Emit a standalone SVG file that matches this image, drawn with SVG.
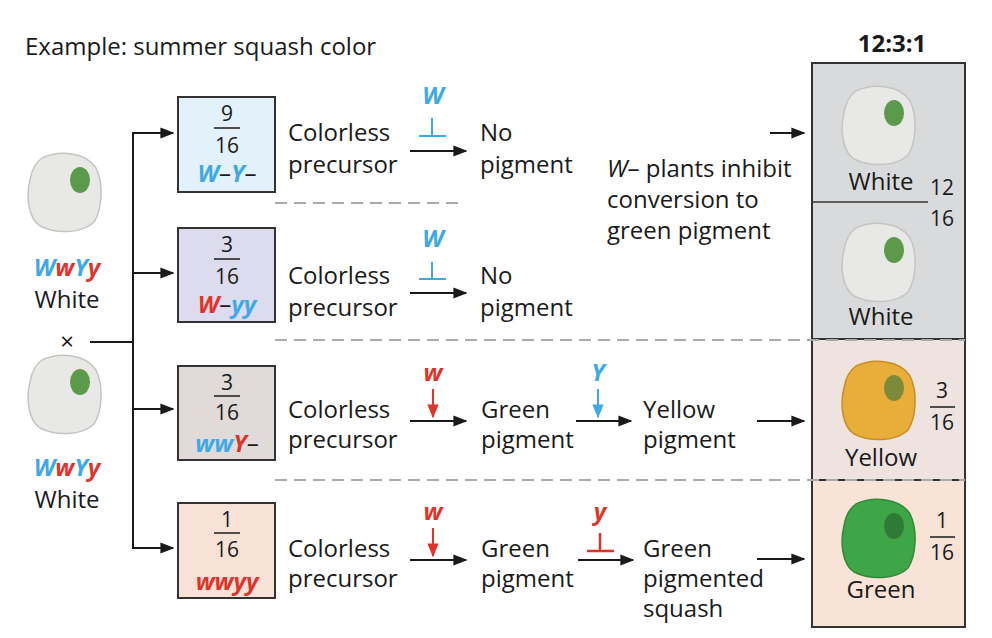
<svg xmlns="http://www.w3.org/2000/svg" width="992" height="638" viewBox="0 0 992 638">
<defs>
<style>
text{font-family:"Open Sans","Noto Sans","Liberation Sans",sans-serif;font-size:24px;fill:#1a1a1a}
.c{text-anchor:middle}
.b{fill:#3da9e8;font-weight:bold;font-style:italic}
.r{fill:#e2332b;font-weight:bold;font-style:italic}
.f{font-size:21px}
.ln{stroke:#1a1a1a;stroke-width:2;fill:none}
.dash{stroke:#aaa;stroke-width:2;stroke-dasharray:12 7}
.box{stroke:#333;stroke-width:2}
</style>
<marker id="a" viewBox="0 0 10 10" refX="9" refY="5" markerWidth="7" markerHeight="7" orient="auto"><path d="M0,1 L10,5 L0,9 z" fill="#1a1a1a"/></marker>
<marker id="ab" viewBox="0 0 10 10" refX="9" refY="5" markerWidth="7" markerHeight="7" orient="auto"><path d="M0,1 L10,5 L0,9 z" fill="#3da9e8"/></marker>
<marker id="ar" viewBox="0 0 10 10" refX="9" refY="5" markerWidth="7" markerHeight="7" orient="auto"><path d="M0,1 L10,5 L0,9 z" fill="#e2332b"/></marker>
<path id="shape" d="M-22,-34 C-5,-42 22,-40 32,-24 C40,-8 38,18 30,30 C18,42 -8,42 -24,34 C-36,26 -38,4 -34,-12 C-32,-24 -28,-30 -22,-34z"/>
<g id="sqW"><use href="#shape" fill="#e8e8e6" stroke="#c4c4c0" stroke-width="1.5"/><ellipse cx="16" cy="-12" rx="10" ry="13" fill="#5a9a4a"/></g>
<g id="sqY"><use href="#shape" fill="#e9ad3a" stroke="#c98d20" stroke-width="1.5"/><ellipse cx="16" cy="-12" rx="10" ry="13" fill="#7d8a3a"/></g>
<g id="sqG"><use href="#shape" fill="#3fa648" stroke="#2d8a36" stroke-width="1.5"/><ellipse cx="16" cy="-12" rx="10" ry="13" fill="#2f7a34"/></g>
</defs>
<rect width="992" height="638" fill="#fff"/>
<text x="25" y="55">Example: summer squash color</text>
<text x="892" y="52" class="c" style="font-weight:bold">12:3:1</text>

<g id="panel">
<rect x="812" y="63" width="153" height="276" fill="#d9dadc" stroke="#333" stroke-width="2"/>
<rect x="812" y="339" width="153" height="141" fill="#eee3df" stroke="#333" stroke-width="2"/>
<rect x="812" y="480" width="153" height="147" fill="#f9e2d6" stroke="#333" stroke-width="2"/>
<line x1="812" y1="202" x2="928" y2="202" stroke="#333" stroke-width="1.5"/>
<use href="#sqW" x="878" y="125"/>
<use href="#sqW" x="878" y="262"/>
<use href="#sqY" x="878" y="400"/>
<use href="#sqG" x="878" y="538"/>
<text x="881" y="190" class="c">White</text>
<text x="881" y="325" class="c">White</text>
<text x="881" y="466" class="c">Yellow</text>
<text x="881" y="598" class="c">Green</text>
<text x="942" y="195" class="c f">12</text><text x="942" y="226" class="c f">16</text>
<text x="942" y="398" class="c f">3</text><text x="942" y="430" class="c f">16</text>
<line x1="930" y1="407" x2="955" y2="407" stroke="#1a1a1a" stroke-width="1.5"/>
<text x="942" y="528" class="c f">1</text><text x="942" y="560" class="c f">16</text>
<line x1="930" y1="537" x2="955" y2="537" stroke="#1a1a1a" stroke-width="1.5"/>
</g>

<g id="dashes">
<line x1="275" y1="203" x2="465" y2="203" class="dash"/>
<line x1="275" y1="340" x2="965" y2="340" class="dash"/>
<line x1="275" y1="480" x2="965" y2="480" class="dash"/>
</g>

<g id="parents">
<use href="#sqW" x="64" y="192"/>
<text x="67" y="276" class="c"><tspan class="b">W</tspan><tspan class="r">w</tspan><tspan class="b">Y</tspan><tspan class="r">y</tspan></text>
<text x="67" y="308" class="c">White</text>
<text x="67" y="350" class="c">×</text>
<use href="#sqW" x="64" y="394"/>
<text x="67" y="476" class="c"><tspan class="b">W</tspan><tspan class="r">w</tspan><tspan class="b">Y</tspan><tspan class="r">y</tspan></text>
<text x="67" y="508" class="c">White</text>
</g>

<g id="connectors">
<line x1="90" y1="342" x2="133" y2="342" class="ln"/>
<line x1="133" y1="132" x2="133" y2="549" class="ln"/>
<line x1="133" y1="133" x2="173" y2="133" class="ln" marker-end="url(#a)"/>
<line x1="133" y1="273" x2="173" y2="273" class="ln" marker-end="url(#a)"/>
<line x1="133" y1="409" x2="173" y2="409" class="ln" marker-end="url(#a)"/>
<line x1="133" y1="548" x2="173" y2="548" class="ln" marker-end="url(#a)"/>
<line x1="410" y1="151" x2="466" y2="151" class="ln" marker-end="url(#a)"/>
<line x1="410" y1="293" x2="466" y2="293" class="ln" marker-end="url(#a)"/>
<line x1="410" y1="421" x2="466" y2="421" class="ln" marker-end="url(#a)"/>
<line x1="576" y1="421" x2="631" y2="421" class="ln" marker-end="url(#a)"/>
<line x1="757" y1="421" x2="804" y2="421" class="ln" marker-end="url(#a)"/>
<line x1="410" y1="560" x2="466" y2="560" class="ln" marker-end="url(#a)"/>
<line x1="578" y1="560" x2="633" y2="560" class="ln" marker-end="url(#a)"/>
<line x1="757" y1="559" x2="804" y2="559" class="ln" marker-end="url(#a)"/>
<line x1="770" y1="133" x2="804" y2="133" class="ln" marker-end="url(#a)"/>
</g>

<g id="row1">
<rect x="178" y="97" width="97" height="95" fill="#e2f1fa" class="box"/>
<text x="227" y="121" class="c f">9</text><line x1="214" y1="128" x2="240" y2="128" stroke="#1a1a1a" stroke-width="1.5"/><text x="227" y="153" class="c f">16</text>
<text x="227" y="182" class="c"><tspan class="b">W</tspan>–<tspan class="b">Y</tspan>–</text>
<text x="288" y="141">Colorless</text><text x="288" y="173">precursor</text>
<text x="433" y="104" class="c b">W</text>
<path d="M432,118 V136 M419,136 H446" stroke="#3da9e8" stroke-width="2"/>
<text x="480" y="141">No</text><text x="480" y="173">pigment</text>
<text x="607" y="177"><tspan font-style="italic">W</tspan>– plants inhibit</text>
<text x="607" y="208">conversion to</text>
<text x="607" y="239">green pigment</text>
</g>
<g id="row2">
<rect x="178" y="228" width="97" height="94" fill="#dcdcee" class="box"/>
<text x="227" y="252" class="c f">3</text><line x1="214" y1="259" x2="240" y2="259" stroke="#1a1a1a" stroke-width="1.5"/><text x="227" y="284" class="c f">16</text>
<text x="227" y="313" class="c"><tspan class="r">W</tspan>–<tspan class="b">yy</tspan></text>
<text x="288" y="284">Colorless</text><text x="288" y="316">precursor</text>
<text x="433" y="247" class="c b">W</text>
<path d="M432,262 V279 M419,279 H446" stroke="#3da9e8" stroke-width="2"/>
<text x="480" y="284">No</text><text x="480" y="316">pigment</text>
</g>
<g id="row3">
<rect x="178" y="366" width="97" height="94" fill="#e0dbd8" class="box"/>
<text x="227" y="390" class="c f">3</text><line x1="214" y1="396" x2="240" y2="396" stroke="#1a1a1a" stroke-width="1.5"/><text x="227" y="420" class="c f">16</text>
<text x="227" y="452" class="c"><tspan class="b">ww</tspan><tspan class="r">Y</tspan>–</text>
<text x="288" y="418">Colorless</text><text x="288" y="448">precursor</text>
<text x="433" y="381" class="c r">w</text>
<line x1="433" y1="389" x2="433" y2="417" stroke="#e2332b" stroke-width="2" marker-end="url(#ar)"/>
<text x="481" y="418">Green</text><text x="481" y="448">pigment</text>
<text x="598" y="381" class="c b">Y</text>
<line x1="598" y1="389" x2="598" y2="417" stroke="#3da9e8" stroke-width="2" marker-end="url(#ab)"/>
<text x="643" y="418">Yellow</text><text x="643" y="448">pigment</text>
</g>
<g id="row4">
<rect x="178" y="503" width="97" height="95" fill="#f8e2d8" class="box"/>
<text x="227" y="527" class="c f">1</text><line x1="214" y1="533" x2="240" y2="533" stroke="#1a1a1a" stroke-width="1.5"/><text x="227" y="557" class="c f">16</text>
<text x="227" y="590" class="c r">wwyy</text>
<text x="288" y="557">Colorless</text><text x="288" y="587">precursor</text>
<text x="433" y="520" class="c r">w</text>
<line x1="433" y1="528" x2="433" y2="556" stroke="#e2332b" stroke-width="2" marker-end="url(#ar)"/>
<text x="481" y="557">Green</text><text x="481" y="587">pigment</text>
<text x="600" y="520" class="c r">y</text>
<path d="M600,533 V551 M587,551 H614" stroke="#e2332b" stroke-width="2.5"/>
<text x="643" y="557">Green</text><text x="643" y="587">pigmented</text><text x="643" y="617">squash</text>
</g>
</svg>
